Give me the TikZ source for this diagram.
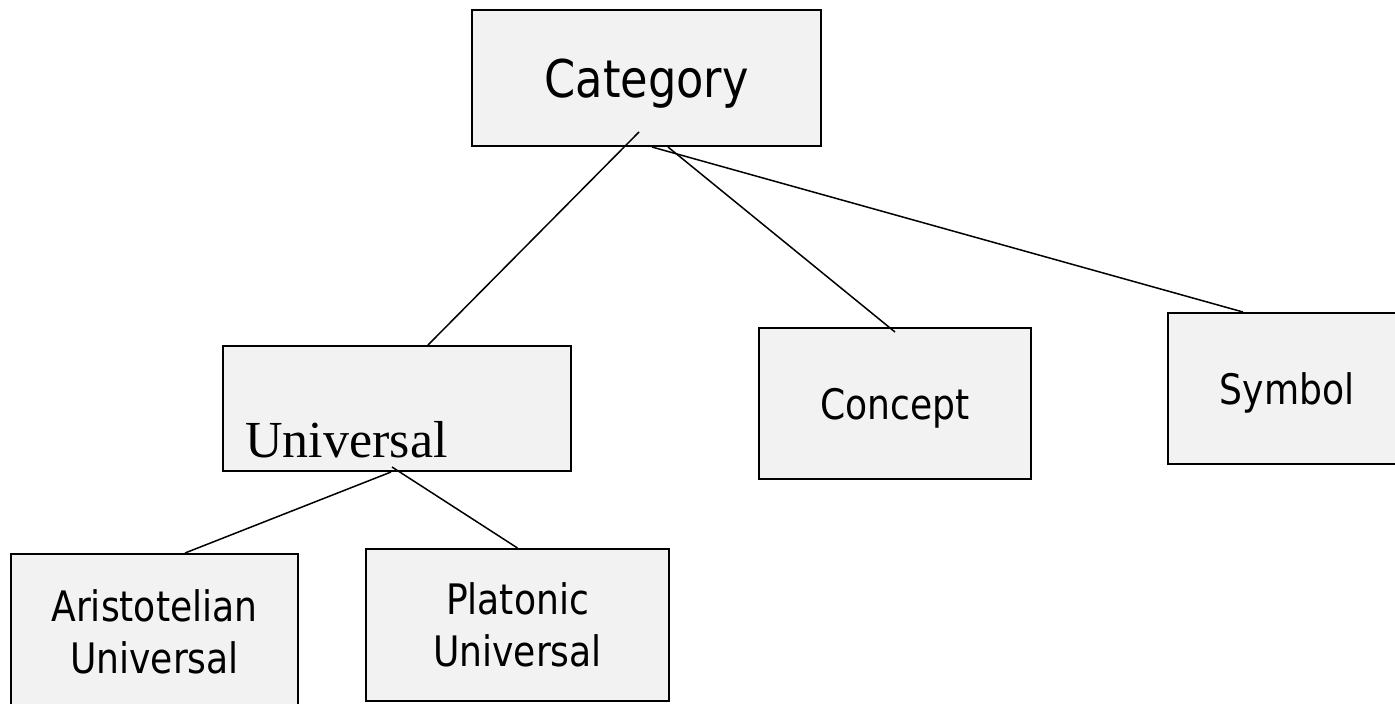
\documentclass[tikz,border=0pt]{standalone}
\usepackage{fontspec}
\setmainfont{DejaVu Sans}[FakeStretch=0.86]
\newfontfamily\uniserif{Liberation Serif}
\usepackage{xcolor}
\usepackage{tikz}

\definecolor{boxfill}{HTML}{F2F2F2}

\begin{document}
\begin{tikzpicture}[
    x=0.5pt, y=-0.5pt,
    font=\fontsize{21}{26}\selectfont,
    box/.style={draw, line width=1pt, fill=boxfill, align=center,
                inner sep=0pt},
    one/.style={box, text depth=0pt},
    link/.style={line width=0.75pt},
  ]

  \clip (0,0) rectangle (1395,703);

  %% ---- top level ---------------------------------------------------
  \node[one, minimum width=174.5pt, minimum height=68pt,
        font=\fontsize{26}{31}\selectfont] (cat) at (646.5,78) {Category};

  %% ---- second row --------------------------------------------------
  \node[box, minimum width=174pt, minimum height=62.5pt] (univ) at (397,408.5) {};
  \node[anchor=base west, inner sep=0pt,
        font=\uniserif\fontsize{26}{31}\selectfont] (univtxt) at (245,457) {Universal};
  \node[one, minimum width=136pt, minimum height=75.5pt] (concept) at (895,403.5) {Concept};
  \node[one, minimum width=119pt, minimum height=75.5pt] (symbol) at (1287,388.5) {Symbol};

  %% ---- kinds of universal ------------------------------------------
  \node[box, minimum width=143.5pt, minimum height=78pt] (arist) at (154.5,632)
  {Aristotelian\\Universal};
  \node[box, minimum width=151.5pt, minimum height=76pt] (plat) at (517.5,625)
  {Platonic\\Universal};

  %% ---- links -------------------------------------------------------
  \draw[link] ([xshift=-3.75pt,yshift=7.5pt]cat.south) -- ([xshift=15.5pt]univ.north);
  \draw[link] ([xshift=10.75pt]cat.south) -- ([yshift=-2.5pt]concept.north);
  \draw[link] ([xshift=2.75pt]cat.south) -- ([xshift=-22pt]symbol.north);
  \draw[link] ([xshift=-3pt]univ.south) -- ([xshift=15.25pt]arist.north);
  \draw[link] ([xshift=-2.5pt,yshift=2.5pt]univ.south) -- (plat.north);

\end{tikzpicture}
\end{document}
